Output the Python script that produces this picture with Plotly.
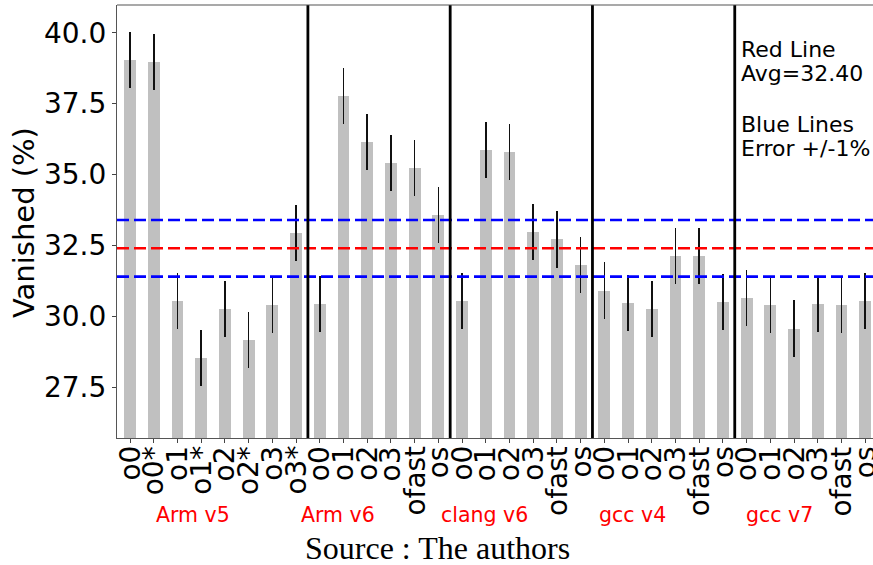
import plotly.graph_objects as go

# Vanished percentage per compiler build / optimisation level
tick_labels = [
    "o0", "o0*", "o1", "o1*", "o2", "o2*", "o3", "o3*",
    "o0", "o1", "o2", "o3", "ofast", "os",
    "o0", "o1", "o2", "o3", "ofast", "os",
    "o0", "o1", "o2", "o3", "ofast", "os",
    "o0", "o1", "o2", "o3", "ofast", "os",
]
vanished = [
    39.04, 38.97, 30.54, 28.53, 30.26, 29.17, 30.40, 32.94,
    30.44, 37.77, 36.15, 35.41, 35.23, 33.57,
    30.54, 35.87, 35.80, 32.97, 32.72, 31.81,
    30.90, 30.47, 30.26, 32.13, 32.13, 30.51,
    30.65, 30.40, 29.56, 30.44, 30.40, 30.54,
]
error = [1.0] * len(vanished)

groups = ["Arm v5", "Arm v6", "clang v6", "gcc v4", "gcc v7"]
group_label_x = [2.66, 8.77, 14.95, 21.19, 27.37]
group_separators = [7.5, 13.5, 19.5, 25.5]

average = 32.40
tolerance = 1.0

x_pos = list(range(len(vanished)))

W, H = 873, 565
ML, MR, MT, MB = 117, 0, 5, 127
plot_h = H - MT - MB

def ypaper(px):
    return (H - MB - px) / plot_h

fig = go.Figure()
fig.add_trace(go.Bar(
    x=x_pos, y=vanished, width=0.5,
    marker=dict(color="#c0c0c0", line=dict(width=0)),
    error_y=dict(type="data", array=error, visible=True,
                 color="#111111", thickness=1.6, width=0),
    showlegend=False,
))

shapes = []
for yv, col in [(average + tolerance, "#0000ff"), (average, "#ff0000"),
                (average - tolerance, "#0000ff")]:
    shapes.append(dict(type="line", xref="paper", yref="y", x0=0, x1=1,
                       y0=yv, y1=yv, line=dict(color=col, width=2.6, dash="12px,5px")))
for xs in group_separators:
    shapes.append(dict(type="line", xref="x", yref="paper", x0=xs, x1=xs,
                       y0=0, y1=1, line=dict(color="black", width=2.8)))

annotations = []

# rotated category labels under each bar
for xp, lab in zip(x_pos, tick_labels):
    annotations.append(dict(text=lab, x=xp, xref="x", y=0, yref="paper",
                            yshift=-6, textangle=-90, showarrow=False,
                            xanchor="center", yanchor="top",
                            font=dict(family="DejaVu Sans", size=28, color="black")))

for name, gx in zip(groups, group_label_x):
    annotations.append(dict(text=name, x=gx, xref="x", y=ypaper(515), yref="paper",
                            showarrow=False, xanchor="center", yanchor="middle",
                            font=dict(family="DejaVu Sans", size=20.5, color="#ff0000")))

note_lines = [("Red Line", 50), ("Avg=32.40", 74), ("Blue Lines", 124), ("Error +/-1%", 148)]
for txt, py in note_lines:
    annotations.append(dict(text=txt, x=25.68, xref="x", y=ypaper(py), yref="paper",
                            showarrow=False, xanchor="left", yanchor="middle",
                            font=dict(family="DejaVu Sans", size=22, color="black")))

annotations.append(dict(text="Vanished (%)", x=(24 - ML) / (W - ML - MR), xref="paper",
                        y=ypaper(223), yref="paper", textangle=-90, showarrow=False,
                        xanchor="center", yanchor="middle",
                        font=dict(family="DejaVu Sans", size=29, color="black")))

annotations.append(dict(text="Source : The authors", x=(437 - ML) / (W - ML - MR), xref="paper",
                        y=ypaper(548), yref="paper", showarrow=False,
                        xanchor="center", yanchor="middle",
                        font=dict(family="Liberation Serif", size=32, color="black")))

fig.update_layout(
    width=W, height=H,
    margin=dict(l=ML, r=MR, t=MT, b=MB, pad=0, autoexpand=False),
    plot_bgcolor="white", paper_bgcolor="white",
    shapes=shapes, annotations=annotations,
    bargap=0,
    font=dict(family="DejaVu Sans", color="black"),
)
fig.update_xaxes(
    range=[-0.55, 31.33], tickmode="array", tickvals=x_pos, showticklabels=False,
    automargin=False,
    ticks="outside", ticklen=4, tickcolor="#444", showgrid=False, zeroline=False,
    showline=True, linecolor="#555", linewidth=1.2, mirror=False,
)
fig.update_yaxes(
    range=[25.71, 40.98], tickmode="array", automargin=False,
    tickvals=[27.5, 30.0, 32.5, 35.0, 37.5, 40.0],
    ticktext=["27.5", "30.0", "32.5", "35.0", "37.5", "40.0"],
    tickfont=dict(size=28, color="black", family="DejaVu Sans"),
    ticks="outside", ticklen=4, tickcolor="#444", showgrid=False, zeroline=False,
    showline=True, linecolor="#555", linewidth=1.2,
)
# top border of the axes frame
fig.add_shape(type="line", xref="paper", yref="paper", x0=0, x1=1, y0=1, y1=1,
              line=dict(color="#555", width=1.2), layer="above")

fig.write_html("out.html")
